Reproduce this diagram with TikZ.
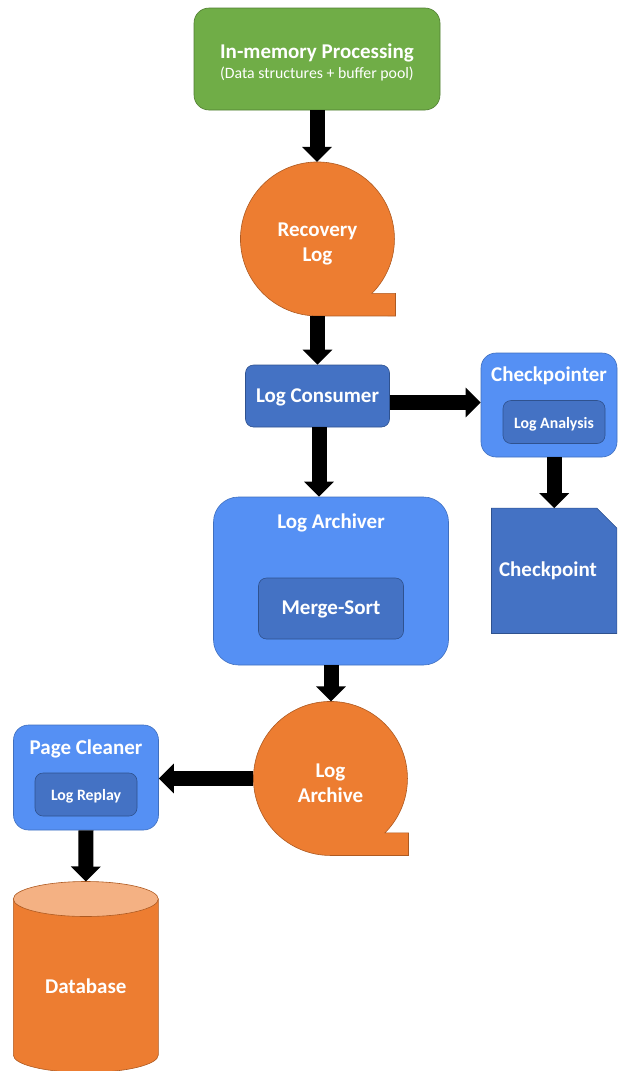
\documentclass[tikz,border=0pt]{standalone}
\usepackage{fontspec}
\setmainfont{Carlito}
\usetikzlibrary{arrows.meta,calc}
\definecolor{gfill}{HTML}{70AD47}
\definecolor{gline}{HTML}{507E32}
\definecolor{lblue}{HTML}{5590F4}
\definecolor{lbline}{HTML}{3F6FBF}
\definecolor{dblue}{HTML}{4472C4}
\definecolor{dbline}{HTML}{2F528F}
\definecolor{orng}{HTML}{ED7D31}
\definecolor{orline}{HTML}{AE5A21}
\definecolor{ortop}{HTML}{F4B183}
\newcommand{\tapeat}[2]{%
  \filldraw[fill=orng, draw=orline, line width=0.6pt]
    ({#1+78},{#2+54.4}) -- ({#1+54.4},{#2+54.4})
    arc[start angle=45, end angle=-270, radius=77]
    -- ({#1+78},{#2+77}) -- cycle;}
\begin{document}
\begin{tikzpicture}[x=1pt, y=-1pt,
  gbox/.style={rectangle, rounded corners=#1, fill=gfill, draw=gline, line width=0.6pt, inner sep=0pt},
  lbox/.style={rectangle, rounded corners=#1, fill=lblue, draw=lbline, line width=0.6pt, inner sep=0pt},
  dbox/.style={rectangle, rounded corners=#1, fill=dblue, draw=dbline, line width=0.6pt, inner sep=0pt,
     text=white, font=\bfseries\fontsize{21}{25}\selectfont, text height=1.25em, text depth=0pt},
  ibox/.style={rectangle, rounded corners=8, fill=dblue, draw=dbline, line width=0.6pt, inner sep=0pt,
     text=white, font=\bfseries\fontsize{#1}{#1}\selectfont, text height=1.25em, text depth=0pt},
  ttl/.style={text=white, font=\bfseries\fontsize{21}{25}\selectfont, inner sep=0pt,
     text height=1.25em, text depth=0pt},
  subt/.style={text=white, font=\fontsize{15.8}{18}\selectfont, inner sep=0pt,
     text height=1.1em, text depth=0pt},
  tapen/.style={circle, minimum size=154pt, inner sep=0pt},
  tapet/.style={text=white, font=\bfseries\fontsize{21}{25}\selectfont, align=center, inner sep=0pt},
  blk/.style={draw=black, line width=15pt, -{Triangle[width=29pt, length=15pt]}}
]
\useasboundingbox (0,0) rectangle (618,1071);

% In-memory processing
\node[gbox=15, minimum width=246pt, minimum height=102pt] (mem) at (317,59) {};
\node[ttl] (memt) at (317,52) {In-memory Processing};
\node[subt] (mems) at (317,72.5) {(Data structures + buffer pool)};

% Recovery log
\tapeat{317.5}{239}
\node[tapen] (rlog) at (317.5,239) {};
\node[tapet] (rlogt) at (317.5,244) {Recovery\\Log};

% Log consumer
\node[dbox=8, minimum width=144pt, minimum height=62pt] (lc) at (317.5,396) {Log Consumer};

% Checkpointer
\node[lbox=15, minimum width=136pt, minimum height=104pt] (cp) at (549,405) {};
\node[ttl] (cpt) at (549,375) {Checkpointer};
\node[ibox=15.8, minimum width=102pt, minimum height=43pt] (cpa) at (554,422) {Log Analysis};

% Checkpoint document
\node[rectangle, minimum width=125pt, minimum height=125pt, inner sep=0pt] (ck) at (554.2,570.8) {};
\filldraw[fill=dblue, draw=dbline, line width=0.6pt]
  (ck.north west) -- ([xshift=-20pt]ck.north east) -- ([yshift=-20pt]ck.north east)
  -- (ck.south east) -- (ck.south west) -- cycle;
\node[ttl] (ckt) at (548,570) {Checkpoint};

% Log archiver
\node[lbox=25, minimum width=235pt, minimum height=168pt] (la) at (331,581) {};
\node[ttl] (lat) at (331,522) {Log Archiver};
\node[ibox=21, minimum width=145pt, minimum height=61pt] (ms) at (331,608.5) {Merge-Sort};

% Log archive
\tapeat{330.5}{778.5}
\node[tapen] (lar) at (330.5,778.5) {};
\node[tapet] (lart) at (330.5,783.5) {Log\\Archive};

% Page cleaner
\node[lbox=15, minimum width=145pt, minimum height=105pt] (pc) at (86,777.5) {};
\node[ttl] (pct) at (86,748) {Page Cleaner};
\node[ibox=15.8, minimum width=102pt, minimum height=43pt] (lr) at (86,794.5) {Log Replay};

% Database
\filldraw[fill=orng, draw=orline, line width=0.6pt]
  (13.3,899) -- (13.3,1055) arc[start angle=180, end angle=0, x radius=72.5, y radius=17.5]
  -- (158.3,899) -- cycle;
\filldraw[fill=ortop, draw=orline, line width=0.6pt] (85.8,899) ellipse[x radius=72.5, y radius=17.5];
\coordinate (dbtop) at (85.8,881.5);
\node[ttl] (db) at (85.8,987) {Database};

% Arrows
\coordinate (lcout) at ($(lc.east)+(0,6.5)$);
\draw[blk] (mem.south) -- (mem.south |- rlog.north);
\draw[blk] (rlog.south) -- (rlog.south |- lc.north);
\draw[blk] ([xshift=1.5pt]lc.south) -- ([xshift=1.5pt]lc.south |- la.north);
\draw[blk] (lcout) -- (lcout -| cp.west);
\draw[blk] (ck.north |- cp.south) -- (ck.north);
\draw[blk] (la.south) -- (la.south |- lar.north);
\draw[blk] (lar.west) -- (lar.west -| pc.east);
\draw[blk] (pc.south) -- (dbtop);
\end{tikzpicture}
\end{document}
